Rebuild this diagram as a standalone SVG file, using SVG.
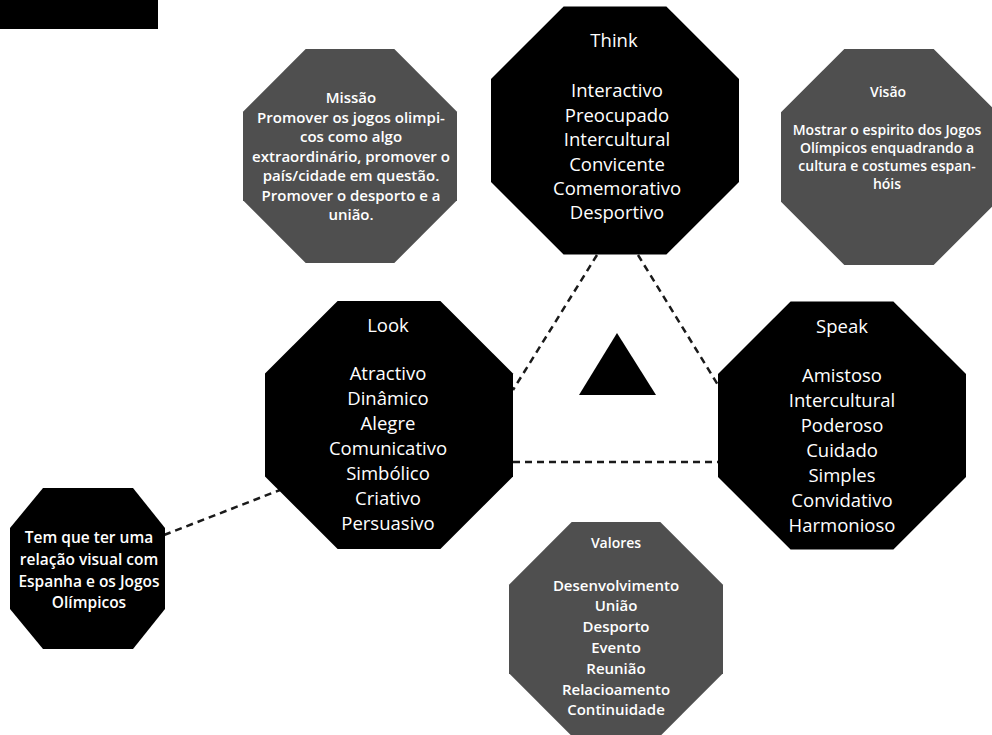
<svg xmlns="http://www.w3.org/2000/svg" width="992" height="735" viewBox="0 0 992 735">
<style>
.blk{fill:#000}
.gry{fill:#4f4f4f}
.t{font-family:"Open Sans","Liberation Sans",sans-serif;fill:#fff;text-anchor:middle}
.big{font-size:18.5px}
.sm{font-size:15px;font-weight:600}
.vs{font-size:14px;font-weight:600}
.tq{font-size:15.5px;font-weight:600}
.dash{stroke:#1a1a1a;stroke-width:2.5;stroke-dasharray:7 5;fill:none}
</style>
<rect width="992" height="735" fill="#fff"/>
<rect x="0" y="0" width="158" height="29" fill="#000"/>
<g id="connectors">
<line class="dash" x1="597" y1="255" x2="513" y2="390"/>
<line class="dash" x1="638" y1="255" x2="718" y2="385"/>
<line class="dash" x1="513" y1="462" x2="718" y2="462"/>
<line class="dash" x1="164" y1="535" x2="280" y2="490"/>
</g>
<g id="triangle"><polygon class="blk" points="617,333 579,395 656,395"/></g>
<g id="think">
<polygon class="blk" points="563.6,6.5 666.4,6.5 739,79.1 739,181.9 666.4,254.5 563.6,254.5 491,181.9 491,79.1"/>
<text class="t big" x="614" y="47">Think</text>
<text class="t big" x="617" y="97">Interactivo</text>
<text class="t big" x="617" y="121.5">Preocupado</text>
<text class="t big" x="617" y="146">Intercultural</text>
<text class="t big" x="617" y="170.5">Convicente</text>
<text class="t big" x="617" y="195">Comemorativo</text>
<text class="t big" x="617" y="219">Desportivo</text>
</g>
<g id="look">
<polygon class="blk" points="337.6,301 440.4,301 513,373.6 513,476.4 440.4,549 337.6,549 265,476.4 265,373.6"/>
<text class="t big" x="388" y="332">Look</text>
<text class="t big" x="388" y="380">Atractivo</text>
<text class="t big" x="388" y="405">Dinâmico</text>
<text class="t big" x="388" y="430">Alegre</text>
<text class="t big" x="388" y="455">Comunicativo</text>
<text class="t big" x="388" y="480">Simbólico</text>
<text class="t big" x="388" y="505">Criativo</text>
<text class="t big" x="388" y="530">Persuasivo</text>
</g>
<g id="speak">
<polygon class="blk" points="790.6,301.5 893.4,301.5 966,374.1 966,476.9 893.4,549.5 790.6,549.5 718,476.9 718,374.1"/>
<text class="t big" x="842" y="333">Speak</text>
<text class="t big" x="842" y="382">Amistoso</text>
<text class="t big" x="842" y="407">Intercultural</text>
<text class="t big" x="842" y="432">Poderoso</text>
<text class="t big" x="842" y="457">Cuidado</text>
<text class="t big" x="842" y="482">Simples</text>
<text class="t big" x="842" y="507">Convidativo</text>
<text class="t big" x="842" y="532">Harmonioso</text>
</g>
<g id="missao">
<polygon class="gry" points="305.7,49 394.3,49 457,111.7 457,200.3 394.3,263 305.7,263 243,200.3 243,111.7"/>
<text class="t sm" x="351" y="103">Missão</text>
<text class="t sm" x="351" y="122.5">Promover os jogos olimpi-</text>
<text class="t sm" x="351" y="142">cos como algo</text>
<text class="t sm" x="351" y="161.5">extraordinário, promover o</text>
<text class="t sm" x="351" y="181">país/cidade em questão.</text>
<text class="t sm" x="351" y="200.5">Promover o desporto e a</text>
<text class="t sm" x="351" y="220">união.</text>
</g>
<g id="visao">
<polygon class="gry" points="844.3,49 933.7,49 997,112.3 997,201.7 933.7,265 844.3,265 781,201.7 781,112.3"/>
<text class="t vs" x="888" y="97">Visão</text>
<text class="t vs" x="887" y="135">Mostrar o espirito dos Jogos</text>
<text class="t vs" x="887" y="153">Olímpicos enquadrando a</text>
<text class="t vs" x="887" y="171">cultura e costumes espan-</text>
<text class="t vs" x="887" y="189">hóis</text>
</g>
<g id="valores">
<polygon class="gry" points="571.7,522 660.3,522 723,584.7 723,673.3 660.3,736 571.7,736 509,673.3 509,584.7"/>
<text class="t vs" x="616" y="548">Valores</text>
<text class="t sm" x="616" y="590.5">Desenvolvimento</text>
<text class="t sm" x="616" y="611">União</text>
<text class="t sm" x="616" y="632">Desporto</text>
<text class="t sm" x="616" y="653">Evento</text>
<text class="t sm" x="616" y="673.5">Reunião</text>
<text class="t sm" x="616" y="694.5">Relacioamento</text>
<text class="t sm" x="616" y="715">Continuidade</text>
</g>
<g id="temque">
<polygon class="blk" points="43,488 133,488 165,528 165,609 133,649 43,649 10,609 10,528"/>
<text class="t tq" x="89" y="543">Tem que ter uma</text>
<text class="t tq" x="89" y="565">relação visual com</text>
<text class="t tq" x="89" y="587">Espanha e os Jogos</text>
<text class="t tq" x="89" y="608">Olímpicos</text>
</g>
</svg>
